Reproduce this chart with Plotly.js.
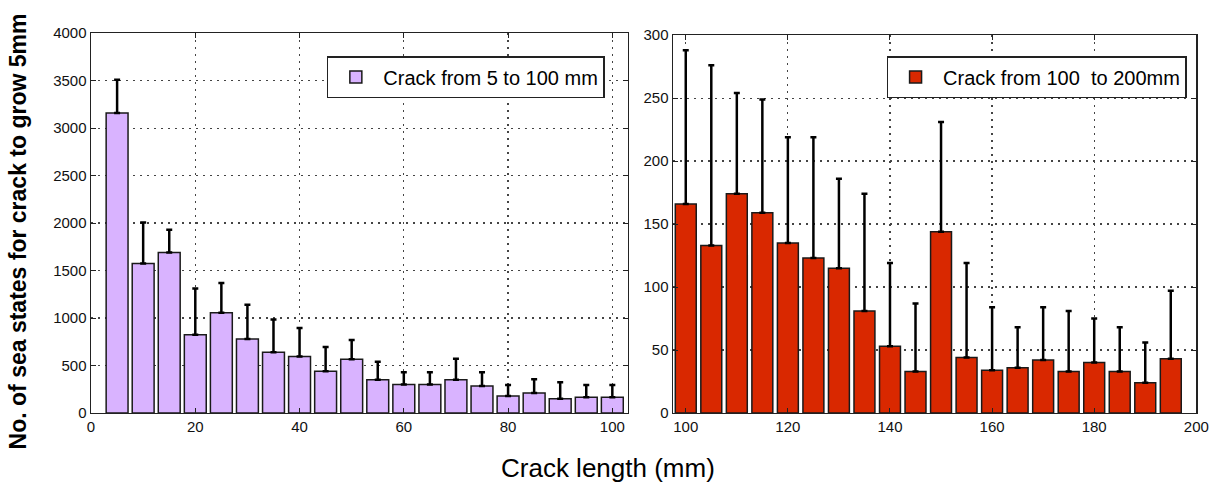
<!DOCTYPE html>
<html>
<head>
<meta charset="utf-8">
<script src="https://cdn.plot.ly/plotly-3.0.1.min.js"></script>
<style>html,body{margin:0;padding:0;background:#fff;}#chart{width:1217px;height:488px;}</style>
</head>
<body>
<div id="chart"></div>
<script>
// Left panel: crack from 5 to 100 mm
const crackLeft = [5,10,15,20,25,30,35,40,45,50,55,60,65,70,75,80,85,90,95,100];
const meanLeft  = [3160,1575,1690,825,1055,780,640,595,440,565,350,300,300,350,285,180,210,150,165,165];
const upperLeft = [3510,2005,1930,1310,1370,1140,985,895,695,770,540,430,430,570,430,295,355,325,295,295];
// Right panel: crack from 100 to 200 mm
const crackRight = [100,105,110,115,120,125,130,135,140,145,150,155,160,165,170,175,180,185,190,195];
const meanRight  = [166,133,174,159,135,123,115,81,53,33,144,44,34,36,42,33,40,33,24,43];
const upperRight = [288,276,254,249,219,219,186,174,119,87,231,119,84,68,84,81,75,68,56,97];

const seriesNames = ['Crack from 5 to 100 mm', 'Crack from 100  to 200mm'];
const xTitle = 'Crack length (mm)';
const yTitle = 'No. of sea states for crack to grow 5mm';

const tickFont = {family: '"Liberation Sans", Arial, sans-serif', size: 15, color: '#111'};

const traces = [
  {
    type: 'bar', x: crackLeft, y: meanLeft, name: seriesNames[0],
    width: 4.2, xaxis: 'x', yaxis: 'y', legend: 'legend',
    marker: {color: '#D9B3FF', line: {color: '#1a1a1a', width: 1.5}},
    error_y: {type: 'data', symmetric: false,
      array: upperLeft.map((u, i) => u - meanLeft[i]),
      arrayminus: meanLeft.map(() => 0),
      color: '#000', thickness: 2.5, width: 3}
  },
  {
    type: 'bar', x: crackRight, y: meanRight, name: seriesNames[1],
    width: 4.1, xaxis: 'x2', yaxis: 'y2', legend: 'legend2',
    marker: {color: '#D92800', line: {color: '#1a1a1a', width: 1.5}},
    error_y: {type: 'data', symmetric: false,
      array: upperRight.map((u, i) => u - meanRight[i]),
      arrayminus: meanRight.map(() => 0),
      color: '#000', thickness: 2.5, width: 3}
  }
];

const axisCommon = {
  showline: true, linecolor: '#222', linewidth: 1.5, mirror: 'ticks',
  ticks: 'inside', ticklen: 5, tickcolor: '#222',
  showgrid: true, gridcolor: '#444', griddash: '2px,5px', gridwidth: 1.2,
  zeroline: false, tickfont: tickFont
};

const legendFont = {family: '"Liberation Sans", Arial, sans-serif', size: 20, color: '#000'};

const layout = {
  width: 1217, height: 488,
  margin: {l: 0, r: 0, t: 0, b: 0},
  paper_bgcolor: '#fff', plot_bgcolor: '#fff',
  showlegend: true,
  xaxis: Object.assign({}, axisCommon, {domain: [0.0748, 0.516], range: [0, 103], tickvals: [0,20,40,60,80,100], anchor: 'y'}),
  yaxis: Object.assign({}, axisCommon, {domain: [0.1537, 0.932], range: [0, 4000], dtick: 500, anchor: 'x'}),
  xaxis2: Object.assign({}, axisCommon, {domain: [0.553, 0.983], range: [97.5, 200], tickvals: [100,120,140,160,180,200], anchor: 'y2'}),
  yaxis2: Object.assign({}, axisCommon, {domain: [0.1537, 0.928], range: [0, 300], dtick: 50, anchor: 'x2'}),
  legend: {x: 0.497, xanchor: 'right', y: 0.885, yanchor: 'top', bgcolor: '#fff',
    bordercolor: '#222', borderwidth: 1.5, font: legendFont, itemwidth: 45},
  legend2: {x: 0.975, xanchor: 'right', y: 0.885, yanchor: 'top', bgcolor: '#fff',
    bordercolor: '#222', borderwidth: 1.5, font: legendFont, itemwidth: 45},
  annotations: [
    {text: yTitle, xref: 'paper', yref: 'paper', x: 18/1217, y: 0.075, xanchor: 'center', yanchor: 'bottom',
     textangle: -90, showarrow: false,
     font: {family: '"Liberation Sans", Arial, sans-serif', size: 23, color: '#000', weight: 'bold'}},
    {text: xTitle, xref: 'paper', yref: 'paper', x: 608/1217, y: 1 - 468/488, xanchor: 'center', yanchor: 'middle',
     showarrow: false,
     font: {family: '"Liberation Sans", Arial, sans-serif', size: 26, color: '#000'}}
  ]
};

Plotly.newPlot('chart', traces, layout, {displayModeBar: false, staticPlot: true});
</script>
</body>
</html>
